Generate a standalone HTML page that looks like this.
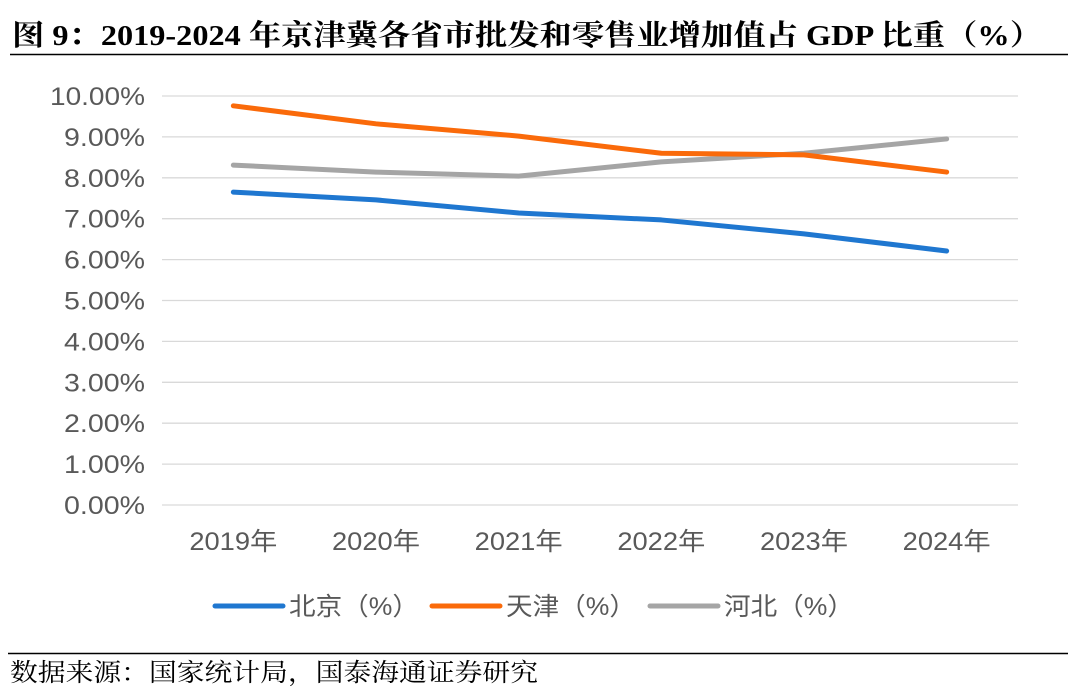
<!DOCTYPE html>
<html><head><meta charset="utf-8"><style>
body{margin:0;width:1080px;height:698px;background:#fff;overflow:hidden}
svg{display:block}
</style></head><body>
<svg id="c" width="1080" height="698" xmlns="http://www.w3.org/2000/svg">
<text x="12" y="45" textLength="1030" lengthAdjust="spacingAndGlyphs" font-family="'Liberation Serif','Noto Serif CJK SC',serif" font-weight="bold" font-size="29" fill="#000">图 9：2019-2024 年京津冀各省市批发和零售业增加值占 GDP 比重（%）</text>
<line x1="10" y1="54.5" x2="1068" y2="54.5" stroke="#000" stroke-width="1.5"/>
<g id="grid"></g><g id="series"></g>
<line x1="8" y1="653.5" x2="1068" y2="653.5" stroke="#000" stroke-width="1.5"/>
<text x="10" y="681" textLength="528" lengthAdjust="spacingAndGlyphs" font-family="'Liberation Serif','Noto Serif CJK SC',serif" font-size="25" fill="#000">数据来源：国家统计局，国泰海通证券研究</text>
</svg>
<script>
const categories=['2019年','2020年','2021年','2022年','2023年','2024年'];
const yTicks=[0,1,2,3,4,5,6,7,8,9,10];
const beijing=[7.65,7.46,7.14,6.97,6.63,6.21];
const tianjin=[9.76,9.32,9.02,8.6,8.56,8.14];
const hebei=[8.31,8.14,8.04,8.39,8.6,8.95];
const seriesNames=['北京（%）','天津（%）','河北（%）'];
const NS='http://www.w3.org/2000/svg';
const x0=162,x1=1018,y0=505,y1=96;
const xs=i=>x0+(x1-x0)/categories.length*(i+0.5);
const ys=v=>y0-(y0-y1)*v/10;
const grid=document.getElementById('grid'),ser=document.getElementById('series');
function mk(tag,attrs,parent,text){const e=document.createElementNS(NS,tag);for(const k in attrs)e.setAttribute(k,attrs[k]);if(text!==undefined)e.textContent=text;parent.appendChild(e);return e;}
const font="'Liberation Sans','Noto Sans CJK SC',sans-serif";
yTicks.forEach(t=>{
  const l=mk('line',{x1:x0,x2:x1,y1:ys(t),y2:ys(t),stroke:'#d9d9d9','stroke-width':1.3},grid);
  
  
  const tx=mk('text',{x:145,y:ys(t)+9,'text-anchor':'end','font-family':font,'font-size':25,fill:'#595959',textLength:95,lengthAdjust:'spacingAndGlyphs'},grid,t.toFixed(2)+'%');
  if(t<10)tx.setAttribute('textLength',81);
  
  
});
categories.forEach((c,i)=>{
  const tx=mk('text',{x:xs(i)-44,y:550,'font-family':font,'font-size':25,fill:'#595959',textLength:88,lengthAdjust:'spacingAndGlyphs'},grid,c);
  
  
});
const all=[beijing,tianjin,hebei],colors=['#1f77d0','#fa6a0a','#a5a5a5'];
[2,0,1].forEach(k=>{
  const p=mk('polyline',{points:all[k].map((v,i)=>xs(i)+','+ys(v)).join(' '),fill:'none',stroke:colors[k],'stroke-width':5,'stroke-linecap':'round','stroke-linejoin':'round'},ser);
  
  
});
const lx=[215,432,650];
seriesNames.forEach((n,k)=>{
  const g=mk('g',{},ser);
  
  
  mk('line',{x1:lx[k],x2:lx[k]+68,y1:606,y2:606,stroke:colors[k],'stroke-width':5,'stroke-linecap':'round'},g);
  mk('text',{x:lx[k]+74,y:615,'font-family':font,'font-size':25,fill:'#595959',textLength:130,lengthAdjust:'spacingAndGlyphs'},g,n);
});
</script>
</body></html>
